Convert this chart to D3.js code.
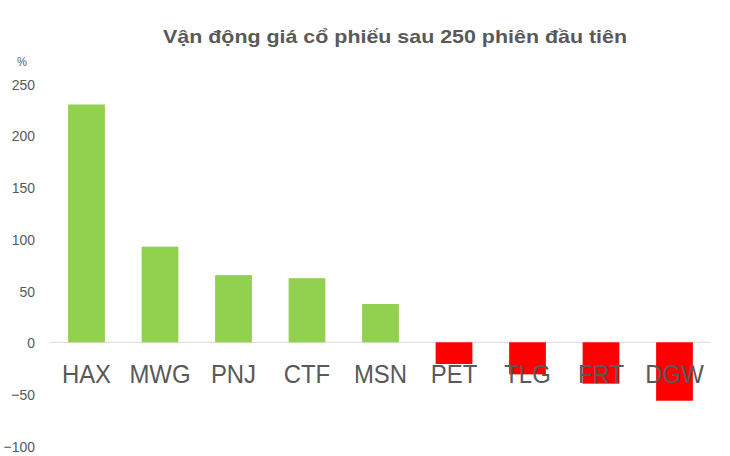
<!DOCTYPE html>
<html><head><meta charset="utf-8">
<script src="https://cdn.jsdelivr.net/npm/d3@7"></script>
<style>body{margin:0;background:#fff}svg{display:block}text{font-family:"Liberation Sans",Arial,sans-serif}</style>
</head><body><svg id="c" width="730" height="456"></svg>
<script>
const categories = ["HAX","MWG","PNJ","CTF","MSN","PET","TLG","FRT","DGW"];
const values = [230, 92.5, 65, 62, 37, -21, -31, -40, -56.5];
const yTicks = [-100, -50, 0, 50, 100, 150, 200, 250];
const title = "Vận động giá cổ phiếu sau 250 phiên đầu tiên";
const unitLabel = "%";

const svg = d3.select("#c");
const x = d3.scaleBand().domain(categories).range([49.75, 711.25]).paddingInner(0.5).paddingOuter(0.25);
const y = d3.scaleLinear().domain([-100, 250]).range([445.7, 83.8]);

function stretch(sel, f){ sel.each(function(){ const w=this.getComputedTextLength(); d3.select(this).attr("textLength", w*f).attr("lengthAdjust","spacingAndGlyphs"); }); }

// zero line
svg.append("line").attr("x1",49.75).attr("x2",711).attr("y1",y(0)).attr("y2",y(0)).attr("stroke","#d9d9d9").attr("stroke-width",1);

// bars
svg.append("g").selectAll("rect").data(categories).join("rect")
  .attr("x", d=>x(d)).attr("width", x.bandwidth())
  .attr("y", (d,i)=>y(Math.max(0, values[i])))
  .attr("height", (d,i)=>Math.abs(y(values[i])-y(0)))
  .attr("fill", (d,i)=>values[i]>=0 ? "#92d050" : "#ff0000");

// y axis
const ya = svg.append("g").attr("transform","translate(35,0)")
  .call(d3.axisLeft(y).tickValues(yTicks).tickSize(0).tickPadding(0).tickFormat(d3.format("d")));
ya.select(".domain").remove();
ya.selectAll("text").attr("fill","#595959").style("font-size","15px").style("font-family","Liberation Sans, Arial, sans-serif").attr("dy","0.36em");
stretch(ya.selectAll("text"), 0.93);

const ul = svg.append("text").attr("x",22).attr("y",66).attr("text-anchor","middle").attr("fill","#595959").style("font-size","12px").text(unitLabel);
stretch(ul, 0.93);

// category labels
const xl = svg.append("g").selectAll("text").data(categories).join("text")
  .attr("x", d=>x(d)+x.bandwidth()/2).attr("y", 382.5).attr("text-anchor","middle")
  .attr("fill","#595959").style("font-size","26px").text(d=>d);
stretch(xl, 0.92);

// title
svg.append("text").attr("x",395).attr("y",43).attr("text-anchor","middle").attr("fill","#595959")
  .style("font-size","19px").style("font-weight","bold").text(title)
  .attr("textLength",464).attr("lengthAdjust","spacingAndGlyphs");
</script></body></html>
